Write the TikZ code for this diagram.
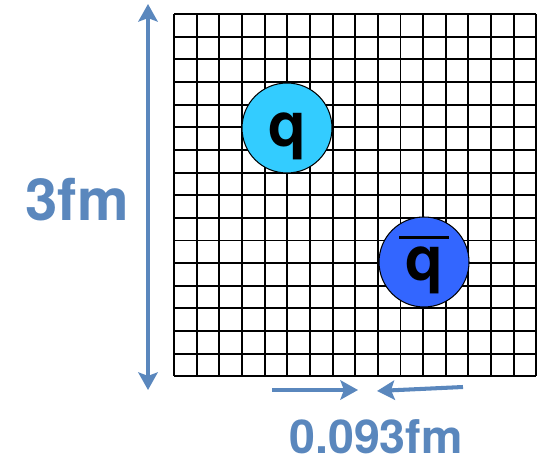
\documentclass[tikz,border=0pt]{standalone}
\usepackage{fontspec}
\setmainfont{TeX Gyre Heros}
\usetikzlibrary{arrows.meta}
\definecolor{ScaleBlue}{HTML}{5A87BD}
\definecolor{QuarkCyan}{HTML}{33CCFF}
\definecolor{AntiBlue}{HTML}{3366FF}
\newcommand{\antiq}{\ooalign{\hidewidth\rule[0.68em]{0.8em}{0.05em}\hidewidth\cr q}}

\begin{document}
\begin{tikzpicture}[x=0.02cm, y=-0.02cm,
        quark/.style={circle, draw, line width=0.6pt, minimum size=1.8cm, inner sep=0pt,
          text height=28pt, text depth=7pt, font=\fontsize{35}{35}\selectfont\bfseries},
        scalelabel/.style={text=ScaleBlue, inner sep=0pt},
        scalearrow/.style={ScaleBlue, line width=2.3pt, -{Stealth[length=10pt, width=11pt, inset=2pt]}}]
        \useasboundingbox (0,0) rectangle (537,462);
        % lattice
        \foreach \i in {0,...,16} {
          \draw[line width=1.1pt] ({174+22.65*\i},14) -- ({174+22.65*\i},376.4);
          \draw[line width=1.1pt] (174,{14+22.65*\i}) -- (536.4,{14+22.65*\i});
        }
        \node[quark, fill=QuarkCyan] (q) at (287,128) {q};
        \node[quark, fill=AntiBlue] (qb) at (424,262) {\antiq};
        % extent
        \coordinate (ltop) at (148,4);
        \coordinate (lbot) at (148,390);
        \draw[scalearrow, {Stealth[length=10pt, width=11pt, inset=2pt]}-{Stealth[length=10pt, width=11pt, inset=2pt]}] (ltop) -- (lbot);
        \node[scalelabel, font=\fontsize{33}{33}\selectfont\bfseries] (size) at (77,200) {3fm};
        % spacing
        \coordinate (al) at (272,390);
        \coordinate (alhead) at (358,390);
        \coordinate (ar) at (463,387);
        \coordinate (arhead) at (377,391);
        \draw[scalearrow] (al) -- (alhead);
        \draw[scalearrow] (ar) -- (arhead);
        \node[scalelabel, font=\fontsize{26.5}{26.5}\selectfont\bfseries] (spacing) at (376,437) {0.093fm};
    \end{tikzpicture}
\end{document}
